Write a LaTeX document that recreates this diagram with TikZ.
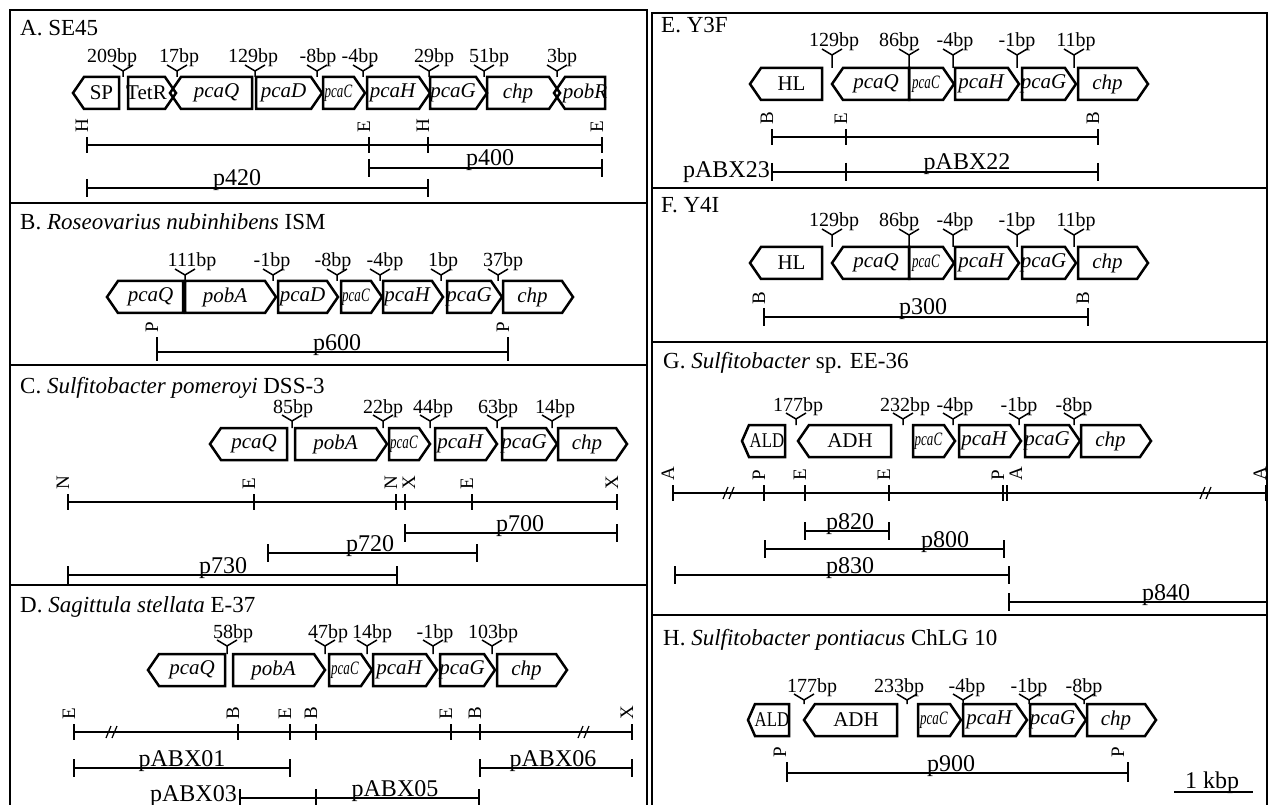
\documentclass[tikz,border=0pt]{standalone}
\usepackage{fontspec}
\setmainfont{Liberation Serif}
\usepackage{graphicx}
\usepackage{tikz}

\newcommand\ttlfont{\fontsize{23}{27}\selectfont}
\newcommand\genefont{\fontsize{21}{25}\selectfont}
\newcommand\bpfont{\fontsize{20}{24}\selectfont}
\newcommand\sitefont{\fontsize{19}{22}\selectfont}
\newcommand\plfont{\fontsize{24}{28}\selectfont}
\newcommand\pcac{\scalebox{0.62}[0.9]{\textit{pcaC}}}
\newcommand\ald{\scalebox{0.8}[1]{ALD}}

% gene arrows: [tip] name, x1, x2, y centre, label
\newcommand{\geneR}[6][11]{%
  \draw[gene] (#3,#5-16) -- (#4-#1,#5-16) -- (#4,#5) -- (#4-#1,#5+16) -- (#3,#5+16) -- cycle;
  \node[glab] (#2) at ({(#3+#4-#1)/2},#5) {#6};}
\newcommand{\geneL}[6][11]{%
  \draw[gene] (#4,#5-16) -- (#3+#1,#5-16) -- (#3,#5) -- (#3+#1,#5+16) -- (#4,#5+16) -- cycle;
  \node[glab] (#2) at ({(#3+#1+#4)/2},#5) {#6};}
% intergenic gap: name, mark x, label x, baseline, gene top, text
\newcommand{\bpgap}[6]{%
  \node[bp] (#1) at (#3,#4) {#6};
  \draw[ymark] (#2-10,#4+2) -- (#2,#4+8) -- (#2+10,#4+2) (#2,#4+8) -- (#2,#5);}
% restriction site: [shift] name, x, y, letter
\newcommand{\rsite}[5][0]{%
  \draw[map] (#3,#4-8) -- (#3,#4+8);
  \node[site] (#2) at ({#3+1+#1},{#4-12}) {#5};}
% cloned fragment: name, x1, x2, y, label x, text
\newcommand{\plasmid}[6]{%
  \draw[map] (#2,#4-9) -- (#2,#4+9) (#2,#4) -- (#3,#4) (#3,#4-9) -- (#3,#4+9);
  \node[plab] (#1) at (#5,#4-2) {#6};}
\newcommand{\mapbreak}[2]{%
  \draw[map,line width=1.2pt] (#1-7,#2+6) -- (#1-2,#2-6) (#1-1,#2+6) -- (#1+4,#2-6);}

\begin{document}
\begin{tikzpicture}[
  x=1pt,y=-1pt,
  gene/.style={draw,line width=2.5pt,line join=miter},
  glab/.style={font=\genefont,inner sep=0pt},
  bp/.style={font=\bpfont,anchor=base,inner sep=0pt},
  ymark/.style={line width=1.5pt},
  site/.style={font=\sitefont,rotate=90,anchor=base west,inner sep=0pt},
  map/.style={line width=1.7pt},
  plab/.style={font=\plfont,anchor=base,inner sep=0pt},
  ttl/.style={font=\ttlfont,anchor=base west,inner sep=0pt},
  frame/.style={line width=2.2pt}
]
\useasboundingbox (0,0) rectangle (1270,805);

% frames
\draw[frame] (10,806) -- (10,10) -- (647,10) -- (647,806);
\draw[frame] (10,203) -- (647,203) (10,365) -- (647,365) (10,585) -- (647,585);
\draw[frame] (652,806) -- (652,13) -- (1267,13) -- (1267,806);
\draw[frame] (652,188) -- (1267,188) (652,342) -- (1267,342) (652,615) -- (1267,615);

% A. SE45
\node[ttl] (tA) at (20,36) {A. SE45};
\geneL{gA1}{73}{119}{93}{SP}
\geneR{gA2}{128}{176}{93}{TetR}
\geneL{gA3}{170}{252}{93}{\textit{pcaQ}}
\geneR{gA4}{256}{322}{93}{\textit{pcaD}}
\geneR{gA5}{323}{365}{93}{\pcac}
\geneR{gA6}{367}{430}{93}{\textit{pcaH}}
\geneR{gA7}{430}{487}{93}{\textit{pcaG}}
\geneR{gA8}{487}{560}{93}{\textit{chp}}
\geneL{gA9}{554}{605}{93}{\textit{pobR}}
\bpgap{bA1}{123}{112}{63}{77}{209bp}
\bpgap{bA2}{177}{179}{63}{77}{17bp}
\bpgap{bA3}{255}{253}{63}{77}{129bp}
\bpgap{bA4}{317}{318}{63}{77}{-8bp}
\bpgap{bA5}{363}{360}{63}{77}{-4bp}
\bpgap{bA6}{429}{434}{63}{77}{29bp}
\bpgap{bA7}{484}{489}{63}{77}{51bp}
\bpgap{bA8}{557}{562}{63}{77}{3bp}
\draw[map] (87,145) -- (602,145);
\rsite{sA1}{87}{145}{H}
\rsite{sA2}{369}{145}{E}
\rsite{sA3}{428}{145}{H}
\rsite{sA4}{602}{145}{E}
\plasmid{pA1}{369}{602}{168}{490}{p400}
\plasmid{pA2}{87}{428}{188}{237}{p420}

% B. Roseovarius
\node[ttl] (tB) at (20,230) {B. \textit{Roseovarius nubinhibens} ISM};
\geneL{gB1}{107}{183}{297}{\textit{pcaQ}}
\geneR{gB2}{185}{276}{297}{\textit{pobA}}
\geneR{gB3}{278}{338}{297}{\textit{pcaD}}
\geneR{gB4}{341}{382}{297}{\pcac}
\geneR{gB5}{383}{443}{297}{\textit{pcaH}}
\geneR{gB6}{447}{502}{297}{\textit{pcaG}}
\geneR{gB7}{503}{573}{297}{\textit{chp}}
\bpgap{bB1}{185}{192}{267}{281}{111bp}
\bpgap{bB2}{273}{272}{267}{281}{-1bp}
\bpgap{bB3}{337}{333}{267}{281}{-8bp}
\bpgap{bB4}{380}{385}{267}{281}{-4bp}
\bpgap{bB5}{441}{443}{267}{281}{1bp}
\bpgap{bB6}{498}{503}{267}{281}{37bp}
\rsite{sB1}{157}{345}{P}
\rsite{sB2}{508}{345}{P}
\plasmid{pB1}{157}{508}{352}{337}{p600}

% C. Sulfitobacter pomeroyi
\node[ttl] (tC) at (20,393) {C. \textit{Sulfitobacter pomeroyi} DSS-3};
\geneL{gC1}{210}{287}{444}{\textit{pcaQ}}
\geneR{gC2}{295}{387}{444}{\textit{pobA}}
\geneR{gC3}{389}{430}{444}{\pcac}
\geneR{gC4}{435}{497}{444}{\textit{pcaH}}
\geneR{gC5}{502}{557}{444}{\textit{pcaG}}
\geneR{gC6}{558}{627}{444}{\textit{chp}}
\bpgap{bC1}{292}{293}{413}{428}{85bp}
\bpgap{bC2}{383}{383}{413}{428}{22bp}
\bpgap{bC3}{430}{433}{413}{428}{44bp}
\bpgap{bC4}{497}{498}{413}{428}{63bp}
\bpgap{bC5}{552}{555}{413}{428}{14bp}
\draw[map] (68,502) -- (617,502);
\rsite{sC1}{68}{502}{N}
\rsite{sC2}{254}{502}{E}
\rsite{sC3}{396}{502}{N}
\rsite[9]{sC4}{405}{502}{X}
\rsite{sC5}{472}{502}{E}
\rsite{sC6}{617}{502}{X}
\plasmid{pC1}{405}{617}{533}{520}{p700}
\plasmid{pC2}{268}{477}{553}{370}{p720}
\plasmid{pC3}{68}{397}{575}{223}{p730}

% D. Sagittula stellata
\node[ttl] (tD) at (20,612) {D. \textit{Sagittula stellata} E-37};
\geneL{gD1}{148}{225}{670}{\textit{pcaQ}}
\geneR{gD2}{233}{325}{670}{\textit{pobA}}
\geneR{gD3}{329}{372}{670}{\pcac}
\geneR{gD4}{373}{437}{670}{\textit{pcaH}}
\geneR{gD5}{440}{495}{670}{\textit{pcaG}}
\geneR{gD6}{497}{567}{670}{\textit{chp}}
\bpgap{bD1}{227}{233}{638}{654}{58bp}
\bpgap{bD2}{325}{328}{638}{654}{47bp}
\bpgap{bD3}{367}{372}{638}{654}{14bp}
\bpgap{bD4}{433}{435}{638}{654}{-1bp}
\bpgap{bD5}{492}{493}{638}{654}{103bp}
\draw[map] (74,732) -- (632,732);
\rsite{sD1}{74}{732}{E}
\rsite{sD2}{238}{732}{B}
\rsite{sD3}{290}{732}{E}
\rsite{sD4}{316}{732}{B}
\rsite{sD5}{451}{732}{E}
\rsite{sD6}{480}{732}{B}
\rsite{sD7}{632}{732}{X}
\mapbreak{113}{732}
\mapbreak{585}{732}
\plasmid{pD1}{74}{290}{768}{182}{pABX01}
\plasmid{pD2}{480}{632}{768}{553}{pABX06}
\plasmid{pD3}{240}{316}{798}{278}{}
\plasmid{pD4}{316}{479}{798}{395}{pABX05}
\node[plab,anchor=base east] (pD5) at (237,801) {pABX03};

% E. Y3F
\node[ttl] (tE) at (661,33) {E. Y3F};
\geneL{gE1}{750}{822}{84}{HL}
\geneL{gE2}{832}{909}{84}{\textit{pcaQ}}
\geneR{gE3}{909}{954}{84}{\pcac}
\geneR{gE4}{955}{1019}{84}{\textit{pcaH}}
\geneR{gE5}{1022}{1076}{84}{\textit{pcaG}}
\geneR{gE6}{1078}{1148}{84}{\textit{chp}}
\bpgap{bE1}{832}{834}{47}{68}{129bp}
\bpgap{bE2}{909}{899}{47}{68}{86bp}
\bpgap{bE3}{953}{955}{47}{68}{-4bp}
\bpgap{bE4}{1017}{1017}{47}{68}{-1bp}
\bpgap{bE5}{1074}{1076}{47}{68}{11bp}
\draw[map] (772,137) -- (1098,137);
\rsite{sE1}{772}{137}{B}
\rsite{sE2}{846}{137}{E}
\rsite{sE3}{1098}{137}{B}
\plasmid{pE1}{772}{846}{172}{809}{}
\plasmid{pE2}{846}{1098}{172}{967}{pABX22}
\node[plab,anchor=base east] (pE3) at (770,178) {pABX23};

% F. Y4I
\node[ttl] (tF) at (661,213) {F. Y4I};
\geneL{gF1}{750}{822}{263}{HL}
\geneL{gF2}{832}{909}{263}{\textit{pcaQ}}
\geneR{gF3}{909}{954}{263}{\pcac}
\geneR{gF4}{955}{1019}{263}{\textit{pcaH}}
\geneR{gF5}{1022}{1076}{263}{\textit{pcaG}}
\geneR{gF6}{1078}{1148}{263}{\textit{chp}}
\bpgap{bF1}{832}{834}{227}{247}{129bp}
\bpgap{bF2}{909}{899}{227}{247}{86bp}
\bpgap{bF3}{953}{955}{227}{247}{-4bp}
\bpgap{bF4}{1017}{1017}{227}{247}{-1bp}
\bpgap{bF5}{1074}{1076}{227}{247}{11bp}
\rsite{sF1}{764}{317}{B}
\rsite{sF2}{1088}{317}{B}
\plasmid{pF1}{764}{1088}{317}{923}{p300}

% G. Sulfitobacter sp. EE-36
\node[ttl] (tG) at (663,368) {G. \textit{Sulfitobacter} sp. EE-36};
\geneL[7]{gG1}{742}{785}{441}{\ald}
\geneL{gG2}{798}{891}{441}{ADH}
\geneR{gG3}{913}{955}{441}{\pcac}
\geneR{gG4}{959}{1021}{441}{\textit{pcaH}}
\geneR{gG5}{1025}{1080}{441}{\textit{pcaG}}
\geneR{gG6}{1081}{1151}{441}{\textit{chp}}
\bpgap{bG1}{796}{798}{411}{425}{177bp}
\bpgap{bG2}{903}{905}{411}{425}{232bp}
\bpgap{bG3}{953}{955}{411}{425}{-4bp}
\bpgap{bG4}{1019}{1019}{411}{425}{-1bp}
\bpgap{bG5}{1074}{1074}{411}{425}{-8bp}
\draw[map] (673,493) -- (1266,493);
\rsite{sG1}{673}{493}{A}
\rsite{sG2}{764}{493}{P}
\rsite{sG3}{805}{493}{E}
\rsite{sG4}{889}{493}{E}
\rsite{sG5}{1003}{493}{P}
\rsite[14]{sG6}{1007}{493}{A}
\rsite[-1]{sG7}{1266}{493}{A}
\mapbreak{730}{493}
\mapbreak{1207}{493}
\plasmid{pG1}{805}{889}{531}{850}{p820}
\plasmid{pG2}{765}{1004}{549}{945}{p800}
\plasmid{pG3}{675}{1009}{575}{850}{p830}
\draw[map] (1009,593) -- (1009,611) (1009,602) -- (1267,602);
\node[plab] (pG4) at (1166,600) {p840};

% H. Sulfitobacter pontiacus
\node[ttl] (tH) at (663,645) {H. \textit{Sulfitobacter pontiacus} ChLG 10};
\geneL[7]{gH1}{748}{789}{720}{\ald}
\geneL{gH2}{804}{897}{720}{ADH}
\geneR{gH3}{918}{961}{720}{\pcac}
\geneR{gH4}{963}{1027}{720}{\textit{pcaH}}
\geneR{gH5}{1030}{1086}{720}{\textit{pcaG}}
\geneR{gH6}{1087}{1156}{720}{\textit{chp}}
\bpgap{bH1}{804}{812}{692}{704}{177bp}
\bpgap{bH2}{907}{899}{692}{704}{233bp}
\bpgap{bH3}{963}{967}{692}{704}{-4bp}
\bpgap{bH4}{1029}{1029}{692}{704}{-1bp}
\bpgap{bH5}{1084}{1084}{692}{704}{-8bp}
\rsite[-2]{sH1}{787}{770}{P}
\rsite[-5]{sH2}{1128}{770}{P}
\plasmid{pH1}{787}{1128}{773}{951}{p900}

% scale bar
\node[plab] (kbp) at (1212,788) {1 kbp};
\draw[map] (1174,792) -- (1253,792);
\end{tikzpicture}
\end{document}
